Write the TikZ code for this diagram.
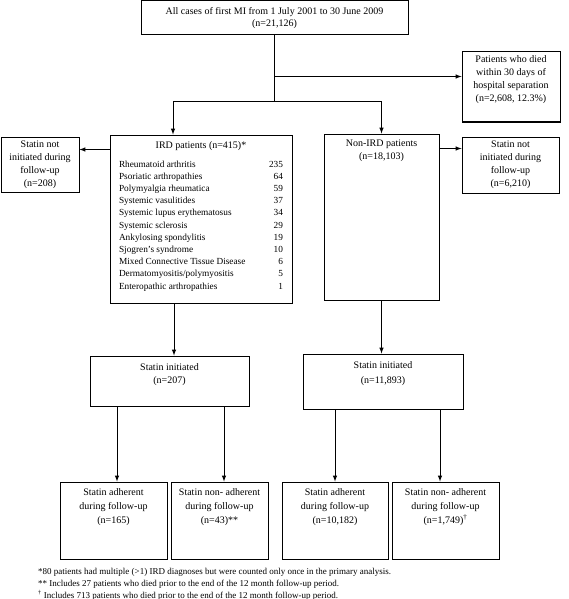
\documentclass[tikz,border=0pt]{standalone}
\usepackage{fontspec}
\setmainfont{Liberation Serif}
\usetikzlibrary{positioning}

\begin{document}
\begin{tikzpicture}[
    x=1pt, y=-1pt,
    >=latex,
    every node/.style={font=\fontsize{10}{13}\selectfont},
    box/.style={draw, line width=1pt, inner sep=0pt},
    intext/.style={anchor=north, align=center, inner sep=0pt, yshift=#1},
    intext/.default=-5pt
]
\useasboundingbox (0,0) rectangle (568,599);

% Top
\node[box, minimum width=267pt, minimum height=34pt, align=center,
      font=\fontsize{10}{12}\selectfont] (all) at (274.5,18)
    {All cases of first MI from 1 July 2001 to 30 June 2009\\(n=21,126)};
\node[box, minimum width=98pt, minimum height=70pt,
      label={[intext=-4pt]north:{Patients who died\\within 30 days of\\hospital separation\\(n=2,608, 12.3\%)}}]
    (died) at (511,87) {};

% IRD / Non-IRD
\node[box, minimum width=182pt, minimum height=168pt,
      label={[intext=-6.5pt]north:{IRD patients (n=415)*\\[6pt]
        {\fontsize{9.3}{12.2}\selectfont
        \begin{tabular*}{164pt}[t]{@{}l@{\extracolsep{\fill}}r@{}}
        Rheumatoid arthritis & 235\\
        Psoriatic arthropathies & 64\\
        Polymyalgia rheumatica & 59\\
        Systemic vasulitides & 37\\
        Systemic lupus erythematosus & 34\\
        Systemic sclerosis & 29\\
        Ankylosing spondylitis & 19\\
        Sjogren's syndrome & 10\\
        Mixed Connective Tissue Disease & 6\\
        Dermatomyositis/polymyositis & 5\\
        Enteropathic arthropathies & 1
        \end{tabular*}}}}]
    (ird) at (201,219) {};
\node[box, minimum width=115pt, minimum height=166pt,
      label={[intext=-6.5pt]north:{Non-IRD patients\\(n=18,103)}}]
    (nonird) at (381.5,217) {};

% Statin not initiated
\node[box, minimum width=78pt, minimum height=55pt, align=center] (notl) at (40,164.5)
    {Statin not\\initiated during\\follow-up\\(n=208)};
\node[box, minimum width=97pt, minimum height=56pt, align=center] (notr) at (510.5,165)
    {Statin not\\initiated during\\follow-up\\(n=6,210)};

% Statin initiated
\node[box, minimum width=159pt, minimum height=50pt,
      label={[intext=-7.5pt]north:{Statin initiated\\(n=207)}}]
    (initl) at (169.5,381) {};
\node[box, minimum width=160pt, minimum height=55pt,
      label={[intext=-8pt]north:{Statin initiated\\[1.5pt](n=11,893)}}]
    (initr) at (383,381.5) {};

% Adherence
\node[box, minimum width=107pt, minimum height=77pt,
      label={[intext=-6.5pt]north:{Statin adherent\\[1pt]during follow-up\\[1pt](n=165)}}]
    (adhl) at (113.5,520.5) {};
\node[box, minimum width=97pt, minimum height=77pt,
      label={[intext=-6.5pt]north:{Statin non- adherent\\[1pt]during follow-up\\[1pt](n=43)**}}]
    (nonadhl) at (219.5,520.5) {};
\node[box, minimum width=106pt, minimum height=77pt,
      label={[intext=-6.5pt]north:{Statin adherent\\[1pt]during follow-up\\[1pt](n=10,182)}}]
    (adhr) at (335,520.5) {};
\node[box, minimum width=107pt, minimum height=77pt,
      label={[intext=-6.5pt]north:{Statin non- adherent\\[1pt]during follow-up\\[1pt](n=1,749)\textsuperscript{\dag}}}]
    (nonadhr) at (445.5,520.5) {};

% Footnotes
\node[anchor=north west, align=left, inner sep=0pt, font=\fontsize{9}{12}\selectfont] (notes) at (38,568)
    {*80 patients had multiple (>1) IRD diagnoses but were counted only once in the primary analysis.\\
     ** Includes 27 patients who died prior to the end of the 12 month follow-up period.\\
     \textsuperscript{\dag} Includes 713 patients who died prior to the end of the 12 month follow-up period.};

% Flow
\coordinate (split) at (all.south |- 0,102);
\draw[line width=1pt] (all.south) -- (split);
\draw[->, line width=1pt] (all.south |- died.north west) ++(0,25) coordinate (side) -- (side -| died.west);
\draw[line width=1pt] (split) -- (split -| 173,0) coordinate (splitl);
\draw[line width=1pt] (split) -- (split -| nonird.north) coordinate (splitr);
\draw[->, line width=1pt] (splitl) -- (splitl |- ird.north);
\draw[->, line width=1pt] (splitr) -- (nonird.north);
\draw[->, line width=1pt] ([yshift=-15pt]ird.north west) -- ([yshift=-15pt]ird.north west -| notl.east);
\draw[->, line width=1pt] ([yshift=-15pt]nonird.north east) -- ([yshift=-15pt]nonird.north east -| notr.west);
\draw[->, line width=1pt] (ird.south -| 174,0) -- (initl.north -| 174,0);
\draw[->, line width=1pt] (nonird.south) -- (nonird.south |- initr.north);
\draw[->, line width=1pt] (initl.south -| 117,0) -- (adhl.north -| 117,0);
\draw[->, line width=1pt] (initl.south -| 224,0) -- (nonadhl.north -| 224,0);
\draw[->, line width=1pt] (initr.south -| adhr.north) -- (adhr.north);
\draw[->, line width=1pt] (initr.south -| 440,0) -- (nonadhr.north -| 440,0);

\end{tikzpicture}
\end{document}
